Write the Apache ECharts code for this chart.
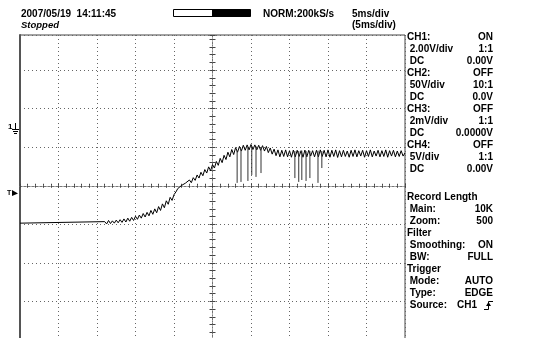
<!DOCTYPE html>
<html>
<head>
<meta charset="utf-8">
<script src="https://cdn.jsdelivr.net/npm/echarts@6/dist/echarts.min.js"></script>
<style>
html, body { margin: 0; padding: 0; background: #fff; }
#chart { width: 560px; height: 338px; }
</style>
</head>
<body>
<div id="chart"></div>
<script>
// scope screen: 5ms/div across, 2V/div up, time in ms, voltage in V
const timeMin = -25, timeMax = 25, timeStep = 5
const voltMin = -8, voltMax = 7.82, voltStep = 2

// CH1 trace: flat until the noise starts, then one reading every sampleStep ms
const flatVolt = -1.94
const flatStart = -25
const noiseStart = -14
const sampleStep = 0.25
const ch1Volts = [
  -1.86, -1.98, -1.80, -1.96, -1.82, -1.94, -1.78, -1.92, -1.76, -1.90,
  -1.72, -1.88, -1.68, -1.84, -1.64, -1.80, -1.58, -1.74, -1.52, -1.68,
  -1.44, -1.62, -1.38, -1.56, -1.28, -1.48, -1.20, -1.40, -1.08, -1.28,
  -0.94, -1.14, -0.78, -0.96, -0.60, -0.76, -0.46, -0.32, -0.14, -0.24,
  0.02, -0.06, 0.14, 0.04, 0.30, 0.16, 0.42, 0.28, 0.56, 0.40,
  0.70, 0.52, 0.84, 0.66, 0.98, 0.78, 1.10, 0.92, 1.26, 1.06,
  1.42, 1.20, 1.58, 1.36, 1.74, 1.50, 1.88, 1.62, 1.98, 1.74,
  2.04, 1.80, 2.10, 1.84, 2.12, 1.86, 2.14, 1.88, 2.12, 1.86,
  2.10, 1.84, 2.08, 1.80, 2.04, 1.72, 1.96, 1.64, 1.90, 1.56,
  1.86, 1.50, 1.84, 1.52, 1.86, 1.50, 1.82, 1.48, 1.85, 1.50,
  1.84, 1.52, 1.82, 1.48, 1.85, 1.50, 1.84, 1.54, 1.82, 1.50,
  1.84, 1.50, 1.86, 1.52, 1.84, 1.50, 1.86, 1.48, 1.84, 1.52,
  1.86, 1.47, 1.82, 1.50, 1.84, 1.52, 1.80, 1.48, 1.84, 1.52,
  1.86, 1.50, 1.82, 1.54, 1.84, 1.48, 1.82, 1.52, 1.86, 1.50,
  1.80, 1.54, 1.84, 1.50, 1.82, 1.52, 1.86, 1.48, 1.82, 1.54,
  1.84, 1.50, 1.80, 1.52, 1.82, 1.54, 1.70
]

// narrow dropouts on the plateau: time, top and bottom of each
const spikeTimes = [3.2, 3.7, 4.6, 5.1, 5.65, 6.3, 10.7, 11.2, 11.6, 12.15, 12.65, 13.7, 14.2]
const spikeTops = [1.80, 1.90, 2.00, 2.05, 2.05, 2.00, 1.80, 1.80, 1.82, 1.80, 1.80, 1.82, 1.80]
const spikeBottoms = [0.15, 0.20, 0.25, 0.56, 0.46, 0.66, 0.40, 0.20, 0.30, 0.25, 0.40, 0.15, 0.92]

const headerTexts = [
  ['2007/05/19  14:11:45', 21, 14.5],
  ['NORM:200kS/s', 263, 14.5],
  ['5ms/div', 352, 14.5],
  ['(5ms/div)', 352, 25]
]
const channelRows = [
  ['CH1:', 'ON'], [' 2.00V/div', '1:1'], [' DC', '0.00V'],
  ['CH2:', 'OFF'], [' 50V/div', '10:1'], [' DC', '0.0V'],
  ['CH3:', 'OFF'], [' 2mV/div', '1:1'], [' DC', '0.0000V'],
  ['CH4:', 'OFF'], [' 5V/div', '1:1'], [' DC', '0.00V']
]
const setupRows = [
  ['Record Length', ''], [' Main:', '10K'], [' Zoom:', '500'],
  ['Filter', ''], [' Smoothing:', 'ON'], [' BW:', 'FULL'],
  ['Trigger', ''], [' Mode:', 'AUTO'], [' Type:', 'EDGE'], [' Source:', '']
]
const triggerSource = 'CH1'

const font = 'bold 10px "Liberation Sans", Arial, sans-serif'
const ch1Data = [[flatStart, flatVolt]].concat(
  ch1Volts.map((v, i) => [noiseStart + i * sampleStep, v])
)
const spikeData = []
spikeTimes.forEach((t, i) => {
  spikeData.push([t, spikeTops[i]], [t, spikeBottoms[i]], [t, null])
})

function label(text, x, y, extra) {
  return {
    type: 'text', x: x, y: y, silent: true,
    style: Object.assign({ text: text, font: font, fill: '#000', verticalAlign: 'middle' }, extra || {})
  }
}

const graphics = []
headerTexts.forEach(h => graphics.push(label(h[0], h[1], h[2])))
graphics.push(label('Stopped', 21, 25, { font: 'italic bold 9.5px "Liberation Sans", Arial, sans-serif' }))
graphics.push({ type: 'rect', shape: { x: 173.5, y: 9.5, width: 77, height: 7 }, style: { fill: '#fff', stroke: '#000', lineWidth: 1 } })
graphics.push({ type: 'rect', shape: { x: 212, y: 9.5, width: 38.5, height: 7 }, style: { fill: '#000' } })

channelRows.forEach((r, i) => {
  graphics.push(label(r[0], 407, 37 + i * 12))
  graphics.push(label(r[1], 493, 37 + i * 12, { align: 'right' }))
})
setupRows.forEach((r, i) => {
  graphics.push(label(r[0], 407, 197 + i * 12))
  if (r[1]) graphics.push(label(r[1], 493, 197 + i * 12, { align: 'right' }))
})
graphics.push(label(triggerSource, 457, 305))
// rising edge sign
graphics.push({ type: 'polyline', shape: { points: [[484, 309.5], [488.5, 309.5], [488.5, 301.5], [493, 301.5]] }, style: { stroke: '#000', lineWidth: 1, fill: null } })
graphics.push({ type: 'polygon', shape: { points: [[486, 306], [488.5, 302], [491, 306]] }, style: { fill: '#000' } })

// channel 1 ground marker and trigger level marker
graphics.push(label('1', 8, 127, { font: 'bold 8px "Liberation Sans", Arial, sans-serif' }))
graphics.push({ type: 'polyline', shape: { points: [[15.5, 123], [15.5, 129]] }, style: { stroke: '#000', lineWidth: 1 } })
graphics.push({ type: 'line', shape: { x1: 12, y1: 129.5, x2: 19, y2: 129.5 }, style: { stroke: '#000', lineWidth: 1 } })
graphics.push({ type: 'line', shape: { x1: 13, y1: 131.5, x2: 18, y2: 131.5 }, style: { stroke: '#000', lineWidth: 1 } })
graphics.push({ type: 'line', shape: { x1: 14, y1: 133.5, x2: 17, y2: 133.5 }, style: { stroke: '#000', lineWidth: 1 } })
graphics.push(label('T', 7, 193, { font: 'bold 7px "Liberation Sans", Arial, sans-serif' }))
graphics.push({ type: 'polygon', shape: { points: [[12, 190], [18, 193.5], [12, 196]] }, style: { fill: '#000' } })

const dotted = { color: '#666', width: 1, type: [1, 3] }
const tickStyle = { color: '#444', width: 1 }

function centerX(inside) {
  return {
    type: 'value', min: timeMin, max: timeMax, interval: timeStep, position: 'bottom',
    axisLine: { show: true, onZero: true, onZeroAxisIndex: 0, lineStyle: { color: '#777', width: 1, type: [2, 2] } },
    axisTick: { show: true, inside: inside, length: 2, lineStyle: tickStyle },
    minorTick: { show: true, splitNumber: 5, length: 2, lineStyle: tickStyle },
    axisLabel: { show: false }, splitLine: { show: false }
  }
}
function centerY(inside) {
  return {
    type: 'value', min: voltMin, max: voltMax, interval: voltStep, position: 'left',
    axisLine: { show: true, onZero: true, onZeroAxisIndex: 0, lineStyle: { color: '#777', width: 1, type: [1, 2] } },
    axisTick: { show: true, inside: inside, length: 3, lineStyle: tickStyle },
    minorTick: { show: true, splitNumber: 5, length: 3, lineStyle: tickStyle },
    axisLabel: { show: false }, splitLine: { show: false }
  }
}

const chart = echarts.init(document.getElementById('chart'), null, { renderer: 'canvas' })
chart.setOption({
  animation: false,
  backgroundColor: '#fff',
  grid: {
    left: 20, right: 155, top: 35, bottom: -2,
    show: true, borderColor: '#444', borderWidth: 1,
    containLabel: false, outerBoundsMode: 'none'
  },
  xAxis: [
    {
      type: 'value', min: timeMin, max: timeMax, interval: timeStep, position: 'bottom',
      axisLine: { show: false }, axisTick: { show: false }, axisLabel: { show: false },
      splitLine: { show: true, lineStyle: dotted }
    },
    centerX(true),
    centerX(false)
  ],
  yAxis: [
    {
      type: 'value', min: voltMin, max: voltMax, interval: voltStep, position: 'left',
      axisLine: { show: true, onZero: false, lineStyle: { color: '#555', width: 2 } },
      axisTick: { show: false }, axisLabel: { show: false },
      splitLine: { show: true, lineStyle: dotted }
    },
    centerY(true),
    centerY(false)
  ],
  series: [
    {
      type: 'line', xAxisIndex: 0, yAxisIndex: 0,
      data: ch1Data,
      showSymbol: false, symbol: 'none',
      lineStyle: { color: '#000', width: 1 },
      z: 5
    },
    {
      type: 'line', xAxisIndex: 0, yAxisIndex: 0,
      data: spikeData,
      connectNulls: false,
      showSymbol: false, symbol: 'none',
      lineStyle: { color: '#333', width: 1 },
      z: 5
    }
  ],
  graphic: graphics
})
</script>
</body>
</html>
